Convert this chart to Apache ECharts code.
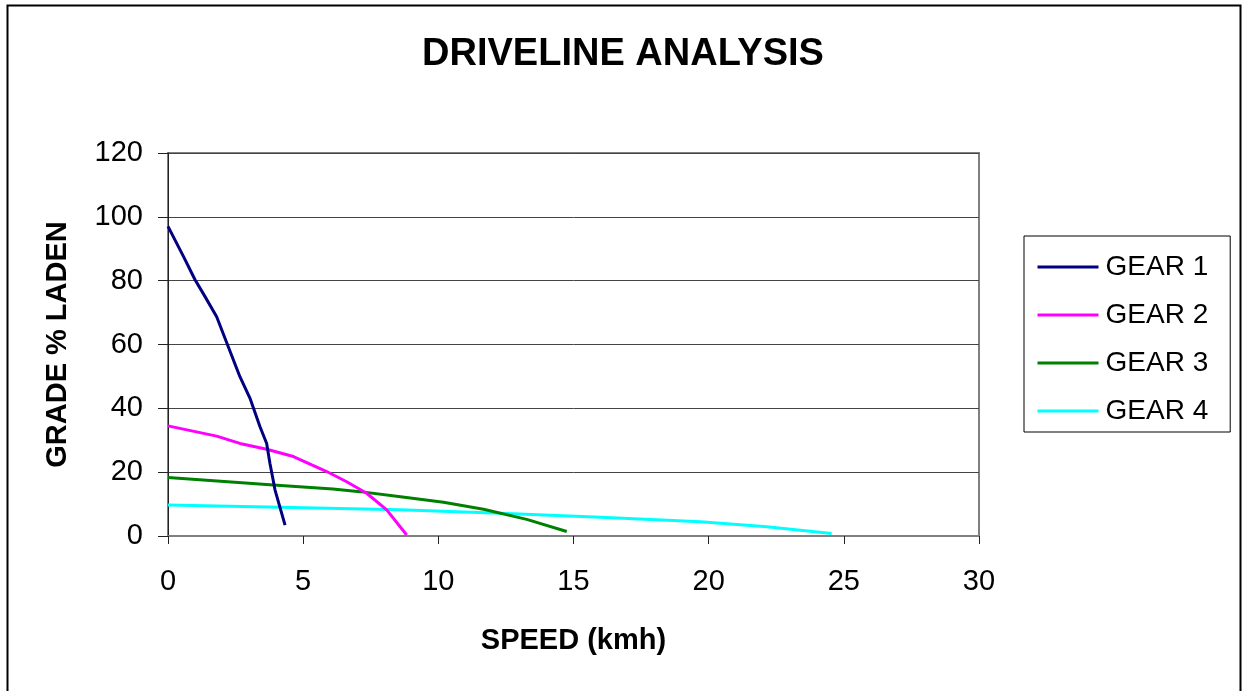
<!DOCTYPE html>
<html><head><meta charset="utf-8">
<script src="https://cdn.jsdelivr.net/npm/echarts@6/dist/echarts.min.js"></script>
<style>html,body{margin:0;padding:0;background:#fff}#c{width:1246px;height:691px}</style>
</head><body><div id="c"></div>
<script>
const seriesNames = ['GEAR 1', 'GEAR 2', 'GEAR 3', 'GEAR 4'];
const gear1 = [[0,97.0],[0.57,87.6],[1.0,80.3],[1.37,75.0],[1.8,68.7],[2.23,59.3],[2.66,49.9],[3.03,43.2],[3.4,34.3],[3.65,29.0],[3.77,22.8],[3.96,14.4],[4.33,3.4]];
const gear2 = [[0,34.5],[1.8,31.3],[2.66,29.0],[3.65,27.2],[4.64,24.9],[5.87,20.2],[6.61,17.0],[7.35,13.4],[8.09,8.2],[8.83,0.3]];
const gear3 = [[0,18.3],[3.9,16.0],[6.1,14.7],[7.1,13.9],[8.6,12.3],[10.19,10.6],[11.67,8.4],[13.27,5.2],[14.75,1.4]];
const gear4 = [[0,9.7],[4.14,9.0],[8.58,8.2],[12.3,7.1],[16.0,5.9],[19.7,4.5],[22.15,2.9],[24.55,0.8]];
const colors = ['#000080', '#FF00FF', '#008000', '#00FFFF'];
const xTicks = [0, 5, 10, 15, 20, 25, 30];
const yTicks = [0, 20, 40, 60, 80, 100, 120];

const chart = echarts.init(document.getElementById('c'));
const font = 'Arial, "Liberation Sans", sans-serif';
const allData = [gear1, gear2, gear3, gear4];
chart.setOption({
  animation: false,
  graphic: [{type:'rect', shape:{x:7.5,y:5.5,width:1233,height:690}, style:{fill:'none', stroke:'#000', lineWidth:2}, z:-1}],
  title: {text:'DRIVELINE ANALYSIS', left:'center', top:31, textStyle:{fontFamily:font, fontSize:38, fontWeight:'bold', color:'#000'}},
  grid: {left:168, top:153, width:811, height:383, show:true, borderColor:'#808080', borderWidth:2, backgroundColor:'transparent'},
  legend: {orient:'vertical', left:1024, top:236, data:seriesNames,
    backgroundColor:'#fff', borderColor:'#000', borderWidth:1, padding:[17, 22, 7, 12],
    itemWidth:61, itemHeight:28, itemGap:20,
    itemStyle:{opacity:0}, lineStyle:{width:3},
    textStyle:{fontFamily:font, fontSize:28, color:'#000', padding:[0,0,0,2]}},
  xAxis: {type:'value', min:xTicks[0], max:xTicks[xTicks.length-1], interval:5,
    name:'SPEED (kmh)', nameLocation:'middle', nameGap:90,
    nameTextStyle:{fontFamily:font, fontSize:29, fontWeight:'bold', color:'#000'},
    axisLine:{show:true, onZero:false, lineStyle:{color:'#808080', width:2}},
    axisTick:{show:true, length:8, lineStyle:{color:'#222', width:1}},
    axisLabel:{fontFamily:font, fontSize:29, color:'#000', margin:31},
    splitLine:{show:false}},
  yAxis: {type:'value', min:yTicks[0], max:yTicks[yTicks.length-1], interval:20,
    name:'GRADE % LADEN', nameLocation:'middle', nameGap:96, nameRotate:90,
    nameTextStyle:{fontFamily:font, fontSize:29, fontWeight:'bold', color:'#000'},
    axisLine:{show:true, lineStyle:{color:'#222', width:1}},
    axisTick:{show:true, length:10, lineStyle:{color:'#222', width:1}},
    axisLabel:{fontFamily:font, fontSize:29, color:'#000', margin:25},
    splitLine:{show:true, lineStyle:{color:'#444', width:1}}},
  series: allData.map((d, i) => ({
    name: seriesNames[i], type:'line', data:d, symbol:'none', showSymbol:false,
    smooth:false, color: colors[i], lineStyle:{color:colors[i], width:3}, z: 10 - i
  }))
});
</script></body></html>
